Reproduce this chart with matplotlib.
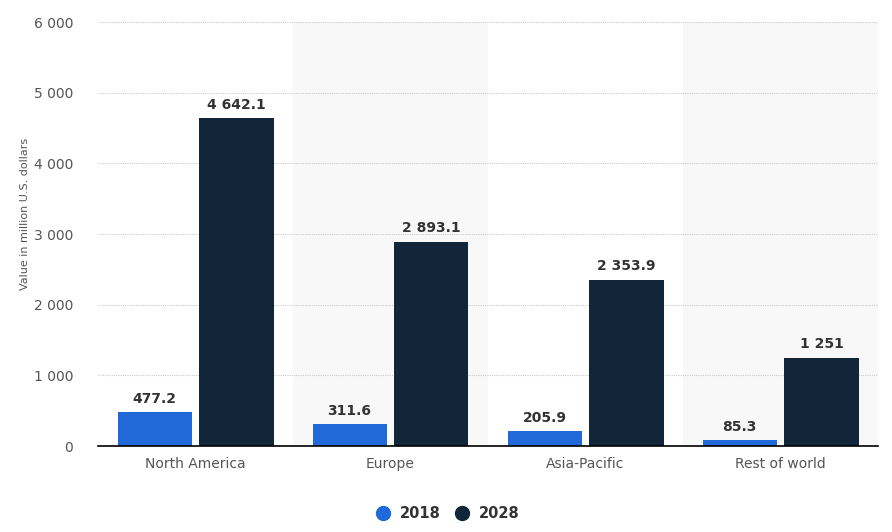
import numpy as np
import matplotlib.pyplot as plt
from matplotlib.lines import Line2D

regions = ['North America', 'Europe', 'Asia-Pacific', 'Rest of world']
v2018 = [477.2, 311.6, 205.9, 85.3]
v2028 = [4642.1, 2893.1, 2353.9, 1251]
lab2018 = ['477.2', '311.6', '205.9', '85.3']
lab2028 = ['4 642.1', '2 893.1', '2 353.9', '1 251']
yticks = [0, 1000, 2000, 3000, 4000, 5000, 6000]

c18 = '#2169d8'
c28 = '#12263a'

fig = plt.figure(figsize=(8.92, 5.32), dpi=100)
ax = fig.add_axes([98/892, 86/532, 780/892, 424/532])

x = np.arange(len(regions))
w = 0.38
off = 0.21

# shaded bands behind every other category
for i in x:
    if i % 2 == 1:
        ax.axvspan(i - 0.5, i + 0.5, color='#f8f8f8', zorder=0, lw=0)

ax.bar(x - off, v2018, w, color=c18, zorder=3)
ax.bar(x + off, v2028, w, color=c28, zorder=3)

for xi, v, t in zip(x - off, v2018, lab2018):
    ax.text(xi, v + 90, t, ha='center', va='bottom', fontsize=10,
            fontweight='bold', color='#333333')
for xi, v, t in zip(x + off, v2028, lab2028):
    ax.text(xi, v + 90, t, ha='center', va='bottom', fontsize=10,
            fontweight='bold', color='#333333')

ax.set_xlim(-0.5, len(regions) - 0.5)
ax.set_ylim(0, 6000)
ax.set_yticks(yticks)
ax.set_yticklabels([f'{t:,}'.replace(',', ' ') for t in yticks])
ax.set_xticks(x)
ax.set_xticklabels(regions)
ax.tick_params(axis='both', length=0, labelsize=10, colors='#555555')
ax.tick_params(axis='y', pad=18)
ax.tick_params(axis='x', pad=8)
ax.yaxis.grid(True, linestyle=(0, (1, 1)), color='#cccccc', lw=0.8, zorder=1)
ax.set_axisbelow(True)
for s in ['top', 'right', 'left']:
    ax.spines[s].set_visible(False)
ax.spines['bottom'].set_color('#000000')
ax.spines['bottom'].set_linewidth(1.2)
ax.spines['bottom'].set_zorder(4)

fig.text(25/892, 0.5 + 52/532, 'Value in million U.S. dollars', rotation=90,
         ha='center', va='center', fontsize=8, color='#555555')

handles = [Line2D([], [], marker='o', ls='', markersize=10, color=c18),
           Line2D([], [], marker='o', ls='', markersize=10, color=c28)]
fig.legend(handles, ['2018', '2028'], loc='center', bbox_to_anchor=(444/892, 18/532),
           ncol=2, frameon=False, prop={'size': 10.5, 'weight': 'bold'},
           labelcolor='#333333', handletextpad=0.2, columnspacing=0.4)

fig.savefig('out.png', dpi=100)
